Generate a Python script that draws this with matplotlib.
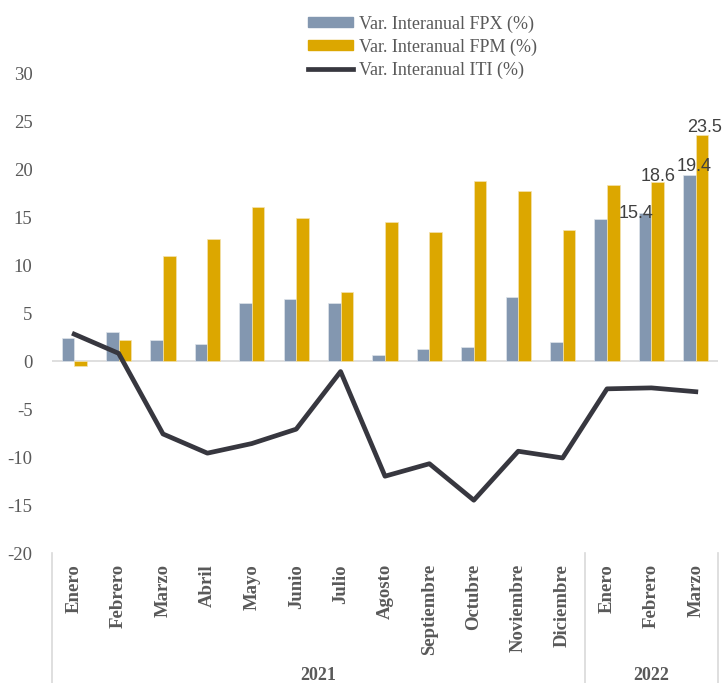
import matplotlib
matplotlib.use("Agg")
import matplotlib.pyplot as plt
import numpy as np
from matplotlib.lines import Line2D
from matplotlib.patches import Patch

months = ["Enero", "Febrero", "Marzo", "Abril", "Mayo", "Junio", "Julio",
          "Agosto", "Septiembre", "Octubre", "Noviembre", "Diciembre",
          "Enero", "Febrero", "Marzo"]
years = ["2021", "2022"]
year_counts = [12, 3]

fpx = [2.4, 3.0, 2.2, 1.8, 6.0, 6.5, 6.0, 0.6, 1.2, 1.5, 6.7, 2.0, 14.8, 15.4, 19.4]
fpm = [-0.5, 2.2, 10.9, 12.7, 16.0, 14.9, 7.2, 14.5, 13.4, 18.8, 17.7, 13.6, 18.3, 18.6, 23.5]
iti = [2.8, 0.8, -7.6, -9.6, -8.6, -7.1, -1.1, -12.0, -10.7, -14.5, -9.4, -10.1, -2.9, -2.8, -3.2]

# (index, series, value) for the labelled bars
labels = [(13, "fpx", 15.4), (13, "fpm", 18.6), (14, "fpx", 19.4), (14, "fpm", 23.5)]

BLUE = "#8397B0"
GOLD = "#DCA700"
LINE = "#37373F"
GREY = "#595959"
SERIF = "Liberation Serif"

W, H = 723, 683
fig = plt.figure(figsize=(W / 100, H / 100), dpi=100)
left, right, top, bottom = 52, 718, 73, 553
ax = fig.add_axes([left / W, 1 - bottom / H, (right - left) / W, (bottom - top) / H])

x = np.arange(len(months))
bw = 0.285
ax.bar(x - bw / 2, fpx, bw, color=BLUE, edgecolor="#dfe4ea", linewidth=0.5, zorder=2)
ax.bar(x + bw / 2, fpm, bw, color=GOLD, edgecolor="#f3e3b0", linewidth=0.5, zorder=2)
ax.plot(x, iti, color=LINE, linewidth=3.4, solid_joinstyle="round", zorder=3)
ax.axhline(0, color="#d9d9d9", linewidth=1.2, zorder=1)

# label offsets (x in categories, y in data units), tuned to the reference
offsets = {(13, "fpx"): (-0.2, 0.0), (13, "fpm"): (0.0, 0.6),
           (14, "fpx"): (0.1, 0.85), (14, "fpm"): (0.05, 0.85)}
for i, series, val in labels:
    dx, dy = offsets[(i, series)]
    xpos = x[i] - bw / 2 if series == "fpx" else x[i] + bw / 2
    ax.text(xpos + dx, val + dy, f"{val}", ha="center", va="center",
            fontsize=13, color="#404040", family="Liberation Sans", zorder=4)

ax.set_xlim(-0.5, len(months) - 0.5)
ax.set_ylim(-20, 30)
ax.set_yticks(range(-20, 31, 5))
ax.set_yticklabels([str(v) for v in range(-20, 31, 5)], family=SERIF,
                   fontsize=13.5, color=GREY)
ax.tick_params(axis="y", length=0, pad=14)
ax.set_xticks(x)
ax.set_xticklabels(months, rotation=90, family=SERIF, fontsize=13.5,
                   fontweight="bold", color=GREY, va="top")
ax.tick_params(axis="x", length=0, pad=8)
for s in ax.spines.values():
    s.set_visible(False)

# category group separators and year labels
trans = ax.get_xaxis_transform()
edges = np.concatenate([[0], np.cumsum(year_counts)]) - 0.5
for e in edges:
    ax.plot([e, e], [0, -0.28], color="#d9d9d9", linewidth=1.2,
            transform=trans, clip_on=False)
for yr, a, b in zip(years, edges[:-1], edges[1:]):
    ax.text((a + b) / 2, -0.255, yr, transform=trans, ha="center", va="center",
            family=SERIF, fontsize=13, fontweight="bold", color=GREY)

handles = [Patch(color=BLUE), Patch(color=GOLD), Line2D([0], [0], color=LINE, linewidth=3.4)]
fig.legend(handles, ["Var. Interanual FPX (%)", "Var. Interanual FPM (%)", "Var. Interanual ITI (%)"],
           loc="upper left", bbox_to_anchor=(292 / W, 1 + 1 / H), frameon=False,
           prop={"family": SERIF, "size": 13}, labelcolor=GREY,
           handlelength=2.5, handleheight=0.45, handletextpad=0.3, labelspacing=0.33)

fig.savefig("out.png", dpi=100)
